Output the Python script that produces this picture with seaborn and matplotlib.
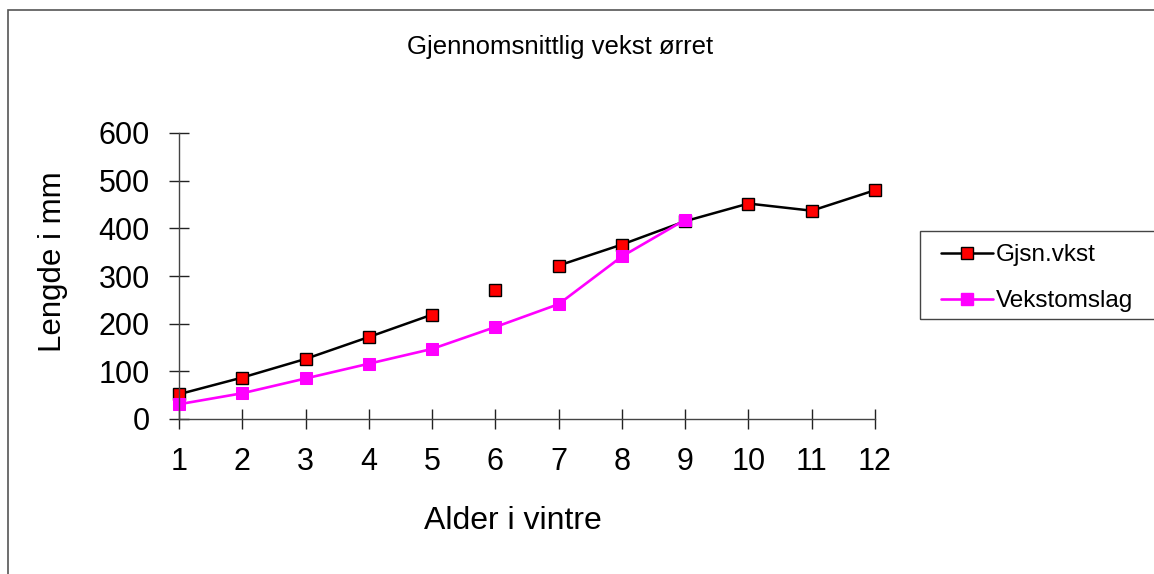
import numpy as np
import pandas as pd
import seaborn as sns
import matplotlib
matplotlib.use("Agg")
from matplotlib import pyplot as plt
from matplotlib.lines import Line2D
from matplotlib.patches import Rectangle

# values
alder = [1, 2, 3, 4, 5, 6, 7, 8, 9, 10, 11, 12]
gjsn_vkst = [52, 87, 126, 172, 219, 271, 322, 366, 415, 452, 437, 480]
# line is broken on both sides of age 6 in the original
gjsn_segment = [1, 1, 1, 1, 1, 2, 3, 3, 3, 3, 3, 3]
alder_vekst = [1, 2, 3, 4, 5, 6, 7, 8, 9]
vekstomslag = [31, 54, 85, 116, 147, 193, 241, 341, 418]

y_ticks = [0, 100, 200, 300, 400, 500, 600]

df_gjsn = pd.DataFrame({"alder": alder, "lengde": gjsn_vkst, "seg": gjsn_segment})
df_vekst = pd.DataFrame({"alder": alder_vekst, "lengde": vekstomslag})

sns.set_style("white")
plt.rcParams["font.family"] = ["Liberation Sans", "DejaVu Sans"]
plt.rcParams["text.color"] = "black"

fig = plt.figure(figsize=(11.54, 5.74), dpi=100)
ax = fig.add_axes([179 / 1154, 155 / 574, 696 / 1154, 286 / 574])

sns.lineplot(data=df_gjsn, x="alder", y="lengde", units="seg", estimator=None,
             color="black", lw=1.8, marker="s", ms=8, markerfacecolor="#ff0000",
             markeredgecolor="black", markeredgewidth=1.0, clip_on=False, ax=ax)
sns.lineplot(data=df_vekst, x="alder", y="lengde", color="#ff00ff", lw=1.9,
             marker="s", ms=8.5, markerfacecolor="#ff00ff", markeredgecolor="#ff00ff",
             clip_on=False, ax=ax)

ax.set_xlim(1, 12)
ax.set_ylim(0, 600)
ax.set_xticks(alder)
ax.set_yticks(y_ticks)
ax.set_xlabel("")
ax.set_ylabel("")
ax.grid(False)
for s in ["top", "right"]:
    ax.spines[s].set_visible(False)
for s in ["left", "bottom"]:
    ax.spines[s].set_color("#444444")
    ax.spines[s].set_linewidth(1.0)
ax.tick_params(axis="both", direction="inout", length=14, width=1.0, bottom=True, left=True,
               color="#222222", labelsize=22, labelcolor="black")
ax.tick_params(axis="y", pad=14)
ax.tick_params(axis="x", pad=13)

fig.text(0.4857, 0.918, "Gjennomsnittlig vekst ørret", ha="center", va="center",
         fontsize=18.5, color="black")
fig.text(0.4445, 0.0923, "Alder i vintre", ha="center", va="center", fontsize=23, color="black")
fig.text(0.0455, 0.5436, "Lengde i mm", ha="center", va="center", rotation=90,
         fontsize=22.5, color="black")

# outer chart border (runs off the right and bottom edges)
fig.patches.append(Rectangle((8 / 1154, -0.1), 1.2, 0.1 + 1 - 10.5 / 574,
                             transform=fig.transFigure, fill=False,
                             edgecolor="#555555", lw=1.2))

handles = [
    Line2D([], [], color="black", lw=1.8, marker="s", ms=8, markerfacecolor="#ff0000",
           markeredgecolor="black"),
    Line2D([], [], color="#ff00ff", lw=1.9, marker="s", ms=8.5, markerfacecolor="#ff00ff",
           markeredgecolor="#ff00ff"),
]
fig.legend(handles, ["Gjsn.vkst", "Vekstomslag"], loc="upper left",
           bbox_to_anchor=(929 / 1154, 1 - 232 / 574), frameon=False, fontsize=17.5,
           handlelength=2.15, handletextpad=0.1, labelspacing=1.0, borderpad=0,
           labelcolor="black")
fig.patches.append(Rectangle((920 / 1154, 1 - 319 / 574), 0.3, (319 - 230.7) / 574,
                             transform=fig.transFigure, fill=False,
                             edgecolor="#444444", lw=1.0))

fig.savefig("out.png", dpi=100)
